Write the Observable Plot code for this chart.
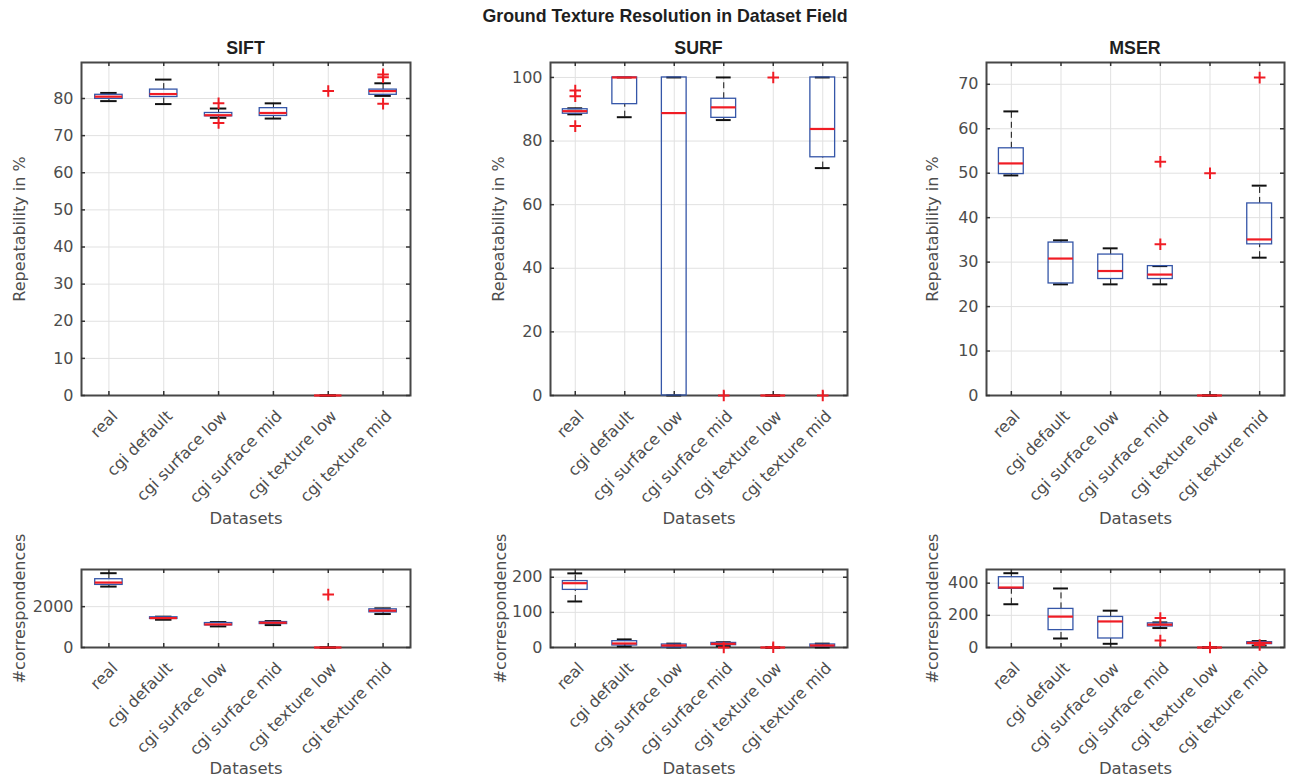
<!DOCTYPE html>
<html><head><meta charset="utf-8">
<script src="https://cdn.jsdelivr.net/npm/d3@7"></script>
<script src="https://cdn.jsdelivr.net/npm/@observablehq/plot@0.6"></script>
<style>
html,body{margin:0;padding:0;background:#fff;overflow:hidden;}
#root{position:relative;width:1289px;height:780px;font-family:"Liberation Sans",Arial,Helvetica,sans-serif;}
.ttl{position:absolute;font-weight:bold;color:#1f1f1f;font-size:17.8px;line-height:1;white-space:nowrap;transform:translateX(-50%);}
</style></head><body><div id="root"></div>
<script>
// ---------- data ----------
const categories = ["real","cgi default","cgi surface low","cgi surface mid","cgi texture low","cgi texture mid"];
const mainTitle = "Ground Texture Resolution in Dataset Field";
const methods = ["SIFT","SURF","MSER"];
const topLabel = "Repeatability in %";
const bottomLabel = "#correspondences";
const xLabel = "Datasets";

// SIFT repeatability
const siftRepLo  = [79.3, 78.5, 74.8, 74.6, 0, 80.7];
const siftRepQ1  = [79.9, 80.4, 75.2, 75.3, 0, 81.0];
const siftRepMed = [80.5, 81.2, 75.5, 76.1, 0, 82.0];
const siftRepQ3  = [81.0, 82.4, 76.1, 77.4, 0, 82.4];
const siftRepHi  = [81.5, 85.1, 77.3, 78.7, 0, 84.1];
const siftRepOut = [[3, 78.7], [3, 73.4], [5, 82.0], [6, 86.5], [6, 85.7], [6, 78.6]];
const siftRepTicks = [0, 10, 20, 30, 40, 50, 60, 70, 80];

// SURF repeatability
const surfRepLo  = [88.4, 87.5, 0, 86.6, 0, 71.5];
const surfRepQ1  = [88.6, 91.6, 0, 87.3, 0, 74.9];
const surfRepMed = [89.4, 100, 88.8, 90.6, 0, 83.8];
const surfRepQ3  = [90.0, 100, 100, 93.3, 0, 100];
const surfRepHi  = [90.3, 100, 100, 100, 0, 100];
const surfRepOut = [[1, 95.9], [1, 94.1], [1, 84.7], [4, 0], [5, 100], [6, 0]];
const surfRepTicks = [0, 20, 40, 60, 80, 100];

// MSER repeatability
const mserRepLo  = [49.5, 25.0, 25.0, 25.0, 0, 31.0];
const mserRepQ1  = [49.8, 25.2, 26.2, 26.2, 0, 34.0];
const mserRepMed = [52.2, 30.8, 28.0, 27.2, 0, 35.1];
const mserRepQ3  = [55.6, 34.4, 31.7, 29.1, 0, 43.2];
const mserRepHi  = [63.9, 34.9, 33.1, 29.1, 0, 47.2];
const mserRepOut = [[4, 52.6], [4, 34.0], [5, 50.0], [6, 71.5]];
const mserRepTicks = [0, 10, 20, 30, 40, 50, 60, 70];

// SIFT correspondences
const siftCorLo  = [2984, 1360, 1033, 1098, 0, 1639];
const siftCorQ1  = [3066, 1400, 1082, 1148, 0, 1721];
const siftCorMed = [3180, 1440, 1131, 1213, 0, 1803];
const siftCorQ3  = [3344, 1480, 1197, 1246, 0, 1869];
const siftCorHi  = [3639, 1510, 1246, 1295, 0, 1918];
const siftCorOut = [[5, 2590]];
const siftCorTicks = [0, 2000];

// SURF correspondences
const surfCorLo  = [131, 3, 0, 4, 0, 0];
const surfCorQ1  = [164, 5.7, 0, 6.7, 0, 2];
const surfCorMed = [183, 11.4, 5.7, 10.5, 0, 5.7];
const surfCorQ3  = [189, 18, 8.6, 13, 0, 8.6];
const surfCorHi  = [211, 23, 11, 15, 0, 11];
const surfCorOut = [[4, 0], [5, 1]];
const surfCorTicks = [0, 100, 200];

// MSER correspondences
const mserCorLo  = [269, 56, 23, 121, 0, 12];
const mserCorQ1  = [365, 108, 56, 131, 0, 21];
const mserCorMed = [373, 192, 162, 142, 0, 29];
const mserCorQ3  = [437, 240, 190, 150, 0, 33];
const mserCorHi  = [462, 367, 229, 156, 0, 40];
const mserCorOut = [[4, 183], [4, 44], [5, 0], [6, 15]];
const mserCorTicks = [0, 200, 400];

// ---------- build ----------
function stats(lo, q1, med, q3, hi) {
  return categories.map((c, k) => ({i: k + 1, cat: c, lo: lo[k], q1: q1[k], med: med[k], q3: q3[k], hi: hi[k]}));
}
function outs(list) { return list.map(([i, v]) => ({i, v})); }

const FONT = "'DejaVu Sans', 'Liberation Sans', Arial, sans-serif";
const cols = [{left: 81, width: 329}, {left: 550, width: 297}, {left: 986, width: 298}];
const rows = [{top: 62, height: 333}, {top: 569, height: 78}];

const panels = [
  {r: 0, c: 0, s: stats(siftRepLo, siftRepQ1, siftRepMed, siftRepQ3, siftRepHi), o: outs(siftRepOut), ticks: siftRepTicks, ymax: 89.7, label: topLabel, lo: 68},
  {r: 0, c: 1, s: stats(surfRepLo, surfRepQ1, surfRepMed, surfRepQ3, surfRepHi), o: outs(surfRepOut), ticks: surfRepTicks, ymax: 104.7, label: topLabel, lo: 58},
  {r: 0, c: 2, s: stats(mserRepLo, mserRepQ1, mserRepMed, mserRepQ3, mserRepHi), o: outs(mserRepOut), ticks: mserRepTicks, ymax: 74.9, label: topLabel, lo: 60},
  {r: 1, c: 0, s: stats(siftCorLo, siftCorQ1, siftCorMed, siftCorQ3, siftCorHi), o: outs(siftCorOut), ticks: siftCorTicks, ymax: 3820, label: bottomLabel, lo: 68},
  {r: 1, c: 1, s: stats(surfCorLo, surfCorQ1, surfCorMed, surfCorQ3, surfCorHi), o: outs(surfCorOut), ticks: surfCorTicks, ymax: 222, label: bottomLabel, lo: 56},
  {r: 1, c: 2, s: stats(mserCorLo, mserCorQ1, mserCorMed, mserCorQ3, mserCorHi), o: outs(mserCorOut), ticks: mserCorTicks, ymax: 485, label: bottomLabel, lo: 60}
];

const root = document.getElementById("root");
const idx = categories.map((c, k) => k + 1);
const BW = 0.25, CW = 0.15;
const BLUE = "#3556a8", RED = "#f01c24", GRID = "#e1e1e1", FRAME = "#474747", TXT = "#4d4d4d";
const FS = 16;

for (const p of panels) {
  const col = cols[p.c], row = rows[p.r];
  const mL = 80, mR = 5, mT = 10, mB = p.r === 0 ? 135 : 131;
  const W = col.width, H = row.height;
  const svg = Plot.plot({
    width: W + mL + mR, height: H + mT + mB,
    marginLeft: mL, marginRight: mR, marginTop: mT, marginBottom: mB,
    style: {fontFamily: FONT, background: "transparent", overflow: "visible"},
    x: {type: "linear", domain: [0.5, 6.5]},
    y: {type: "linear", domain: [0, p.ymax]},
    marks: [
      Plot.gridY(p.ticks, {stroke: GRID, strokeOpacity: 1, strokeWidth: 1}),
      Plot.gridX(idx, {stroke: GRID, strokeOpacity: 1, strokeWidth: 1}),
      Plot.frame({stroke: FRAME, strokeWidth: 2}),
      Plot.tickY(p.ticks, {y: d => d, insetRight: W - 4, stroke: "#333", strokeWidth: 1.5}),
      Plot.tickY(p.ticks, {y: d => d, insetLeft: W - 4, stroke: "#333", strokeWidth: 1.5}),
      Plot.tickX(idx, {x: d => d, insetBottom: H - 4, stroke: "#333", strokeWidth: 1.5}),
      Plot.tickX(idx, {x: d => d, insetTop: H - 4, stroke: "#333", strokeWidth: 1.5}),
      Plot.axisY(p.ticks, {tickSize: 0, tickPadding: 8, fontSize: FS, fill: TXT, tickFormat: d => String(d), label: null}),
      Plot.axisX(idx, {tickSize: 0, tickPadding: 18, dx: 6, tickRotate: -45, tickFormat: i => categories[i - 1], fontSize: FS, fill: TXT, label: null}),
      Plot.text([p.label], {text: d => d, frameAnchor: "left", textAnchor: "middle", rotate: -90, dx: -p.lo, lineAnchor: "top", fontSize: FS, fill: TXT}),
      Plot.text([xLabel], {text: d => d, frameAnchor: "bottom", textAnchor: "middle", dy: p.r === 0 ? 128 : 126, lineAnchor: "bottom", fontSize: FS + 0.5, fill: TXT}),
      // whiskers (dashed)
      Plot.ruleX(p.s, {x: "i", y1: "q3", y2: "hi", stroke: "#111", strokeWidth: 1, strokeDasharray: "6,4"}),
      Plot.ruleX(p.s, {x: "i", y1: "lo", y2: "q1", stroke: "#111", strokeWidth: 1, strokeDasharray: "6,4"}),
      // caps
      Plot.ruleY(p.s, {y: "hi", x1: d => d.i - CW, x2: d => d.i + CW, stroke: "#111", strokeWidth: 2}),
      Plot.ruleY(p.s, {y: "lo", x1: d => d.i - CW, x2: d => d.i + CW, stroke: "#111", strokeWidth: 2}),
      // boxes
      Plot.rect(p.s, {x1: d => d.i - BW, x2: d => d.i + BW, y1: "q1", y2: "q3", fill: "none", stroke: BLUE, strokeWidth: 1.3}),
      // medians
      Plot.ruleY(p.s, {y: "med", x1: d => d.i - BW, x2: d => d.i + BW, stroke: RED, strokeWidth: 2.2}),
      // outliers
      Plot.dot(p.o, {x: "i", y: "v", symbol: "plus", r: 3.8, stroke: RED, strokeWidth: 2})
    ]
  });
  svg.style.position = "absolute";
  svg.style.left = (col.left - mL) + "px";
  svg.style.top = (row.top - mT) + "px";
  root.appendChild(svg);
}

function addTitle(text, cx, top) {
  const d = document.createElement("div");
  d.className = "ttl";
  d.textContent = text;
  d.style.left = cx + "px";
  d.style.top = top + "px";
  root.appendChild(d);
}
addTitle(mainTitle, 665, 8);
methods.forEach((m, k) => addTitle(m, cols[k].left + cols[k].width / 2, 39.5));
</script></body></html>
